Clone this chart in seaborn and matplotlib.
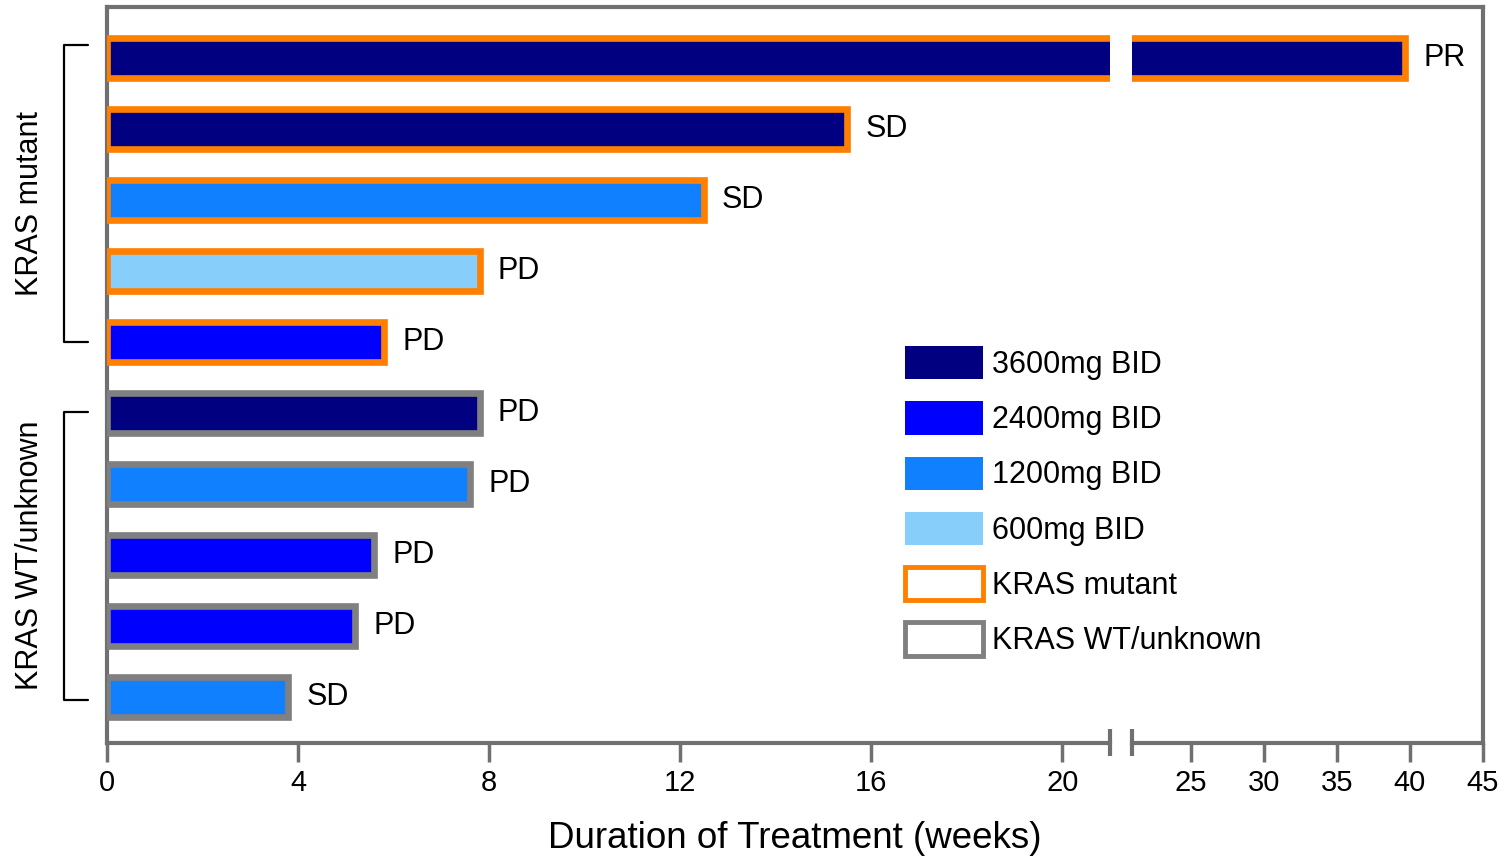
import numpy as np
import pandas as pd
import matplotlib
matplotlib.use("Agg")
import matplotlib.pyplot as plt
from matplotlib.patches import Patch
from matplotlib.transforms import blended_transform_factory
import seaborn as sns

#Data (one row per patient, top to bottom)
patients = ['P1', 'P2', 'P3', 'P4', 'P5', 'P6', 'P7', 'P8', 'P9', 'P10']
weeks = [39.7, 15.5, 12.5, 7.8, 5.8, 7.8, 7.6, 5.6, 5.2, 3.8]
doses = ['3600mg BID', '3600mg BID', '1200mg BID', '600mg BID', '2400mg BID',
         '3600mg BID', '1200mg BID', '2400mg BID', '2400mg BID', '1200mg BID']
kras = ['KRAS mutant'] * 5 + ['KRAS WT/unknown'] * 5
response = ['PR', 'SD', 'SD', 'PD', 'PD', 'PD', 'PD', 'PD', 'PD', 'SD']

dose_levels = ['3600mg BID', '2400mg BID', '1200mg BID', '600mg BID']
dose_colors = {'3600mg BID': '#000080', '2400mg BID': '#0000FF',
               '1200mg BID': '#1080FF', '600mg BID': '#87CEFA'}
kras_levels = ['KRAS mutant', 'KRAS WT/unknown']
kras_colors = {'KRAS mutant': '#FF8000', 'KRAS WT/unknown': '#808080'}

left_ticks = [0, 4, 8, 12, 16, 20]
right_ticks = [25, 30, 35, 40, 45]
break_at = 21.0

df = pd.DataFrame({'pid': patients, 'weeks': weeks, 'dose': doses,
                   'kras': kras, 'resp': response})

sns.set_style('white')
plt.rcParams['font.family'] = ['Liberation Sans', 'DejaVu Sans']
plt.rcParams['text.color'] = 'black'

axis_grey = '#707070'
W, H = 1506, 856
fig = plt.figure(figsize=(W / 100, H / 100), dpi=100)

bottom = 113 / H
height = 736 / H
frame = fig.add_axes([107 / W, bottom, 1376 / W, height])
ax1 = fig.add_axes([107 / W, bottom, 1003 / W, height])
ax2 = fig.add_axes([1132 / W, bottom, 351 / W, height])

#Frame: top, left, right lines only
frame.set_facecolor('none')
frame.set_xticks([])
frame.set_yticks([])
for side in ['top', 'left', 'right']:
    frame.spines[side].set_color(axis_grey)
    frame.spines[side].set_linewidth(3)
frame.spines['bottom'].set_visible(False)

n = len(patients)
for ax, lo, hi, ticks in [(ax1, 0, break_at, left_ticks), (ax2, break_at, 45, right_ticks)]:
    sns.barplot(data=df, x='weeks', y='pid', hue='dose', order=patients,
                hue_order=dose_levels, palette=dose_colors, dodge=False,
                errorbar=None, saturation=1, width=0.565, legend=False,
                orient='h', ax=ax)
    for p in ax.patches:
        idx = int(round(p.get_y() + p.get_height() / 2))
        p.set_edgecolor(kras_colors[kras[idx]])
        p.set_linewidth(4.8)
    ax.set_facecolor('none')
    ax.set_xlim(lo, hi)
    ax.set_ylim(n - 1 + 0.65, -0.72)
    ax.set_xticks(ticks)
    ax.set_yticks([])
    ax.set_xlabel('')
    ax.set_ylabel('')
    for side in ['top', 'left', 'right']:
        ax.spines[side].set_visible(False)
    ax.spines['bottom'].set_color(axis_grey)
    ax.spines['bottom'].set_linewidth(3)
    ax.tick_params(axis='x', direction='out', length=14, width=2.5,
                   color=axis_grey, labelcolor='black', labelsize=21, pad=5,
                   bottom=True)

#Break marks on the x axis
ax1.plot([1, 1], [-0.018, 0.019], transform=ax1.transAxes, color=axis_grey,
         lw=3, clip_on=False, solid_capstyle='butt')
ax2.plot([0, 0], [-0.018, 0.019], transform=ax2.transAxes, color=axis_grey,
         lw=3, clip_on=False, solid_capstyle='butt')

#Response labels at bar ends
for i in range(n):
    ax = ax1 if weeks[i] < break_at else ax2
    ax.annotate(response[i], xy=(weeks[i], i), xytext=(13, 0),
                textcoords='offset points', va='center', ha='left', fontsize=22)

#Group brackets and labels
tr = blended_transform_factory(ax1.transAxes, ax1.transData)
groups = [('KRAS mutant', -0.18, 4.0, 2.05), ('KRAS WT/unknown', 4.98, 9.04, 7.0)]
for name, y0, y1, yc in groups:
    ax1.plot([-0.019, -0.0429, -0.0429, -0.019], [y0, y0, y1, y1], transform=tr,
             color='black', lw=1.6, clip_on=False)
    ax1.text(-0.0768, yc, name, transform=tr, rotation=90, ha='center',
             va='center', fontsize=22)

fig.text((107 + 1376 / 2) / W, 8 / H, 'Duration of Treatment (weeks)',
         ha='center', va='baseline', fontsize=26.5)

#Legend
handles = [Patch(facecolor=dose_colors[d], edgecolor='none', label=d) for d in dose_levels]
handles += [Patch(facecolor='white', edgecolor=kras_colors[k], linewidth=3.5, label=k)
            for k in kras_levels]
fig.legend(handles=handles, loc='upper left', bbox_to_anchor=(905 / W, 1 - 346 / H),
           frameon=False, fontsize=22, handlelength=2.55, handleheight=1.3,
           labelspacing=0.7, handletextpad=0.3, borderpad=0, borderaxespad=0)

fig.savefig('out.png', dpi=100)
